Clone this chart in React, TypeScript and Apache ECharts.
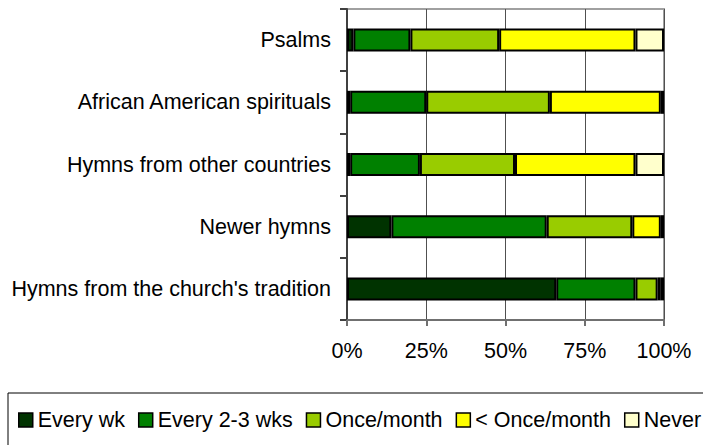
import React, { useEffect, useRef } from "react";
import * as echarts from "echarts";

const categories = [
  "Psalms",
  "African American spirituals",
  "Hymns from other countries",
  "Newer hymns",
  "Hymns from the church's tradition",
];
const seriesNames = ["Every wk", "Every 2-3 wks", "Once/month", "< Once/month", "Never"];
const everyWk = [2, 1, 1, 14, 66];
const every23Wks = [18, 24, 22, 49, 25];
const oncePerMonth = [28, 39, 30, 27, 7];
const lessThanMonthly = [43, 35, 38, 9, 1];
const never = [9, 1, 9, 1, 1];
const xTicks = [0, 25, 50, 75, 100];

const colors = ["#003300", "#008000", "#99CC00", "#FFFF00", "#FFFFCC"];
const FONT = "'Liberation Sans', Arial, sans-serif";
const FS = 21.5;

export default function App() {
  const ref = useRef<HTMLDivElement>(null);
  useEffect(() => {
    if (!ref.current) return;
    const chart = echarts.init(ref.current, undefined, { renderer: "svg" });
    const values = [everyWk, every23Wks, oncePerMonth, lessThanMonthly, never];
    chart.setOption({
      animation: false,
      textStyle: { fontFamily: FONT, color: "#000" },
      grid: {
        left: 347,
        right: 39,
        top: 9,
        bottom: 125,
        show: true,
        borderColor: "#a0a0a0",
        borderWidth: 2,
        backgroundColor: "transparent",
      },
      legend: {
        left: 18,
        top: 409,
        width: 900,
        padding: 0,
        itemWidth: 14,
        itemHeight: 14,
        itemGap: 13,
        icon: "rect",
        data: seriesNames,
        textStyle: { fontFamily: FONT, fontSize: FS, color: "#000" },
        itemStyle: { borderColor: "#000", borderWidth: 1.5 },
      },
      xAxis: {
        type: "value",
        min: xTicks[0],
        max: xTicks[xTicks.length - 1],
        interval: 25,
        axisLine: { show: true, lineStyle: { color: "#707070", width: 2 } },
        axisTick: { show: true, length: 6, lineStyle: { color: "#707070", width: 2 } },
        axisLabel: {
          formatter: "{value}%",
          fontFamily: FONT,
          fontSize: FS,
          color: "#000",
          margin: 20,
        },
        splitLine: { show: true, lineStyle: { color: "#505050", width: 1 } },
      },
      yAxis: {
        type: "category",
        data: categories,
        inverse: true,
        axisLine: { show: true, lineStyle: { color: "#404040", width: 2 } },
        axisTick: { show: true, length: 7, inside: false, lineStyle: { color: "#404040", width: 2 } },
        axisLabel: { fontFamily: FONT, fontSize: FS, color: "#000", margin: 16 },
      },
      series: seriesNames.map((name, i) => ({
        name,
        type: "bar",
        stack: "total",
        barWidth: 23,
        data: values[i],
        itemStyle: { color: colors[i], borderColor: "#000", borderWidth: 2 },
      })),
      graphic: [
        {
          type: "rect",
          shape: { x: 8, y: 393, width: 760, height: 120 },
          style: { fill: "none", stroke: "#000", lineWidth: 1 },
          silent: true,
        },
      ],
    });
    return () => chart.dispose();
  }, []);
  return (
    <div
      ref={ref}
      style={{ position: "fixed", left: 0, top: 0, width: 703, height: 445, background: "#fff" }}
    />
  );
}
